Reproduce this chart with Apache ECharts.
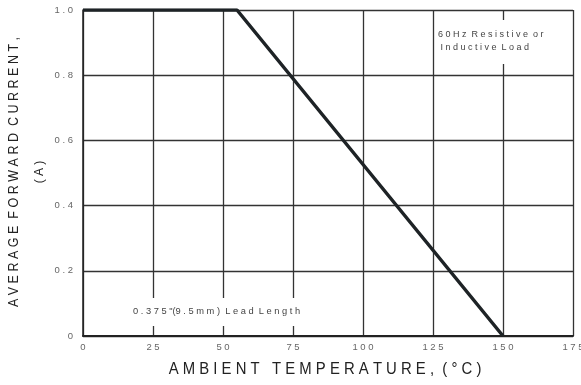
<!DOCTYPE html>
<html>
<head>
<meta charset="utf-8">
<script src="https://cdn.jsdelivr.net/npm/echarts@6/dist/echarts.min.js"></script>
<style>
  html, body { margin: 0; padding: 0; background: #fff; }
  #chart { width: 581px; height: 385px; }
</style>
</head>
<body>
<div id="chart"></div>
<script>
// derating curve: current vs ambient temperature
const tempPoints = [0, 55, 150];
const currentPoints = [1.0, 1.0, 0];
const xTicks = [0, 25, 50, 75, 100, 125, 150, 175];
const yTicks = [0, 0.2, 0.4, 0.6, 0.8, 1.0];

const spaced = s => String(s).split('').join(' ');

const chart = echarts.init(document.getElementById('chart'));

const option = {
    animation: false,
    backgroundColor: '#fff',
    textStyle: { fontFamily: 'Liberation Sans' },
    grid: { left: 83, right: 8, top: 10, bottom: 49, outerBoundsMode: 'none' },
    xAxis: {
        type: 'value',
        min: xTicks[0],
        max: xTicks[xTicks.length - 1],
        interval: 25,
        axisLine: { show: true, onZero: false, lineStyle: { color: '#222', width: 2 } },
        axisTick: { show: false },
        splitLine: { show: true, lineStyle: { color: '#333', width: 1.3 } },
        axisLabel: {
            color: '#666', fontSize: 9.5, margin: 6,
            formatter: v => spaced(v)
        }
    },
    yAxis: {
        type: 'value',
        min: yTicks[0],
        max: yTicks[yTicks.length - 1],
        interval: 0.2,
        axisLine: { show: true, lineStyle: { color: '#222', width: 1.5 } },
        axisTick: { show: false },
        splitLine: { show: true, lineStyle: { color: '#333', width: 1.3 } },
        axisLabel: {
            color: '#666', fontSize: 9.5, margin: 10,
            formatter: v => v === 0 ? '0' : spaced(v.toFixed(1))
        }
    },
    series: [{
        type: 'line',
        data: tempPoints.map((t, i) => [t, currentPoints[i]]),
        symbol: 'none',
        lineStyle: { color: '#1e2326', width: 3.5 },
        z: 5
    }],
    graphic: [
        {
            type: 'text', left: 436, top: 20, z: 10,
            style: {
                text: '6 0 H z  R e s i s t i v e  o r\n I n d u c t i v e  L o a d',
                fontSize: 9, fill: '#444', lineHeight: 13,
                backgroundColor: '#fff', padding: [8, 2, 10, 2],
                fontFamily: 'Liberation Sans'
            }
        },
        {
            type: 'text', left: 131, top: 298, z: 10,
            style: {
                text: '0 . 3 7 5 "(9 . 5 m m )  L e a d  L e n g t h',
                fontSize: 9.3, fill: '#444',
                backgroundColor: '#fff', padding: [9, 2, 10, 2],
                fontFamily: 'Liberation Sans'
            }
        },
        {
            type: 'text', x: 325, y: 370, scaleX: 0.93,
            style: {
                text: 'A M B I E N T   T E M P E R A T U R E ,  ( ° C )',
                fontSize: 16, fill: '#222', fontFamily: 'Liberation Sans',
                align: 'center', verticalAlign: 'middle'
            }
        },
        {
            type: 'text', x: 14, y: 172, rotation: Math.PI / 2, scaleX: 0.895,
            style: {
                text: 'A V E R A G E  F O R W A R D  C U R R E N T ,',
                fontSize: 14, fill: '#222', fontFamily: 'Liberation Sans',
                align: 'center', verticalAlign: 'middle'
            }
        },
        {
            type: 'text', x: 40, y: 172, rotation: Math.PI / 2,
            style: {
                text: '( A )',
                fontSize: 12, fill: '#222', fontFamily: 'Liberation Sans',
                align: 'center', verticalAlign: 'middle'
            }
        }
    ]
};

option && chart.setOption(option);
</script>
</body>
</html>
